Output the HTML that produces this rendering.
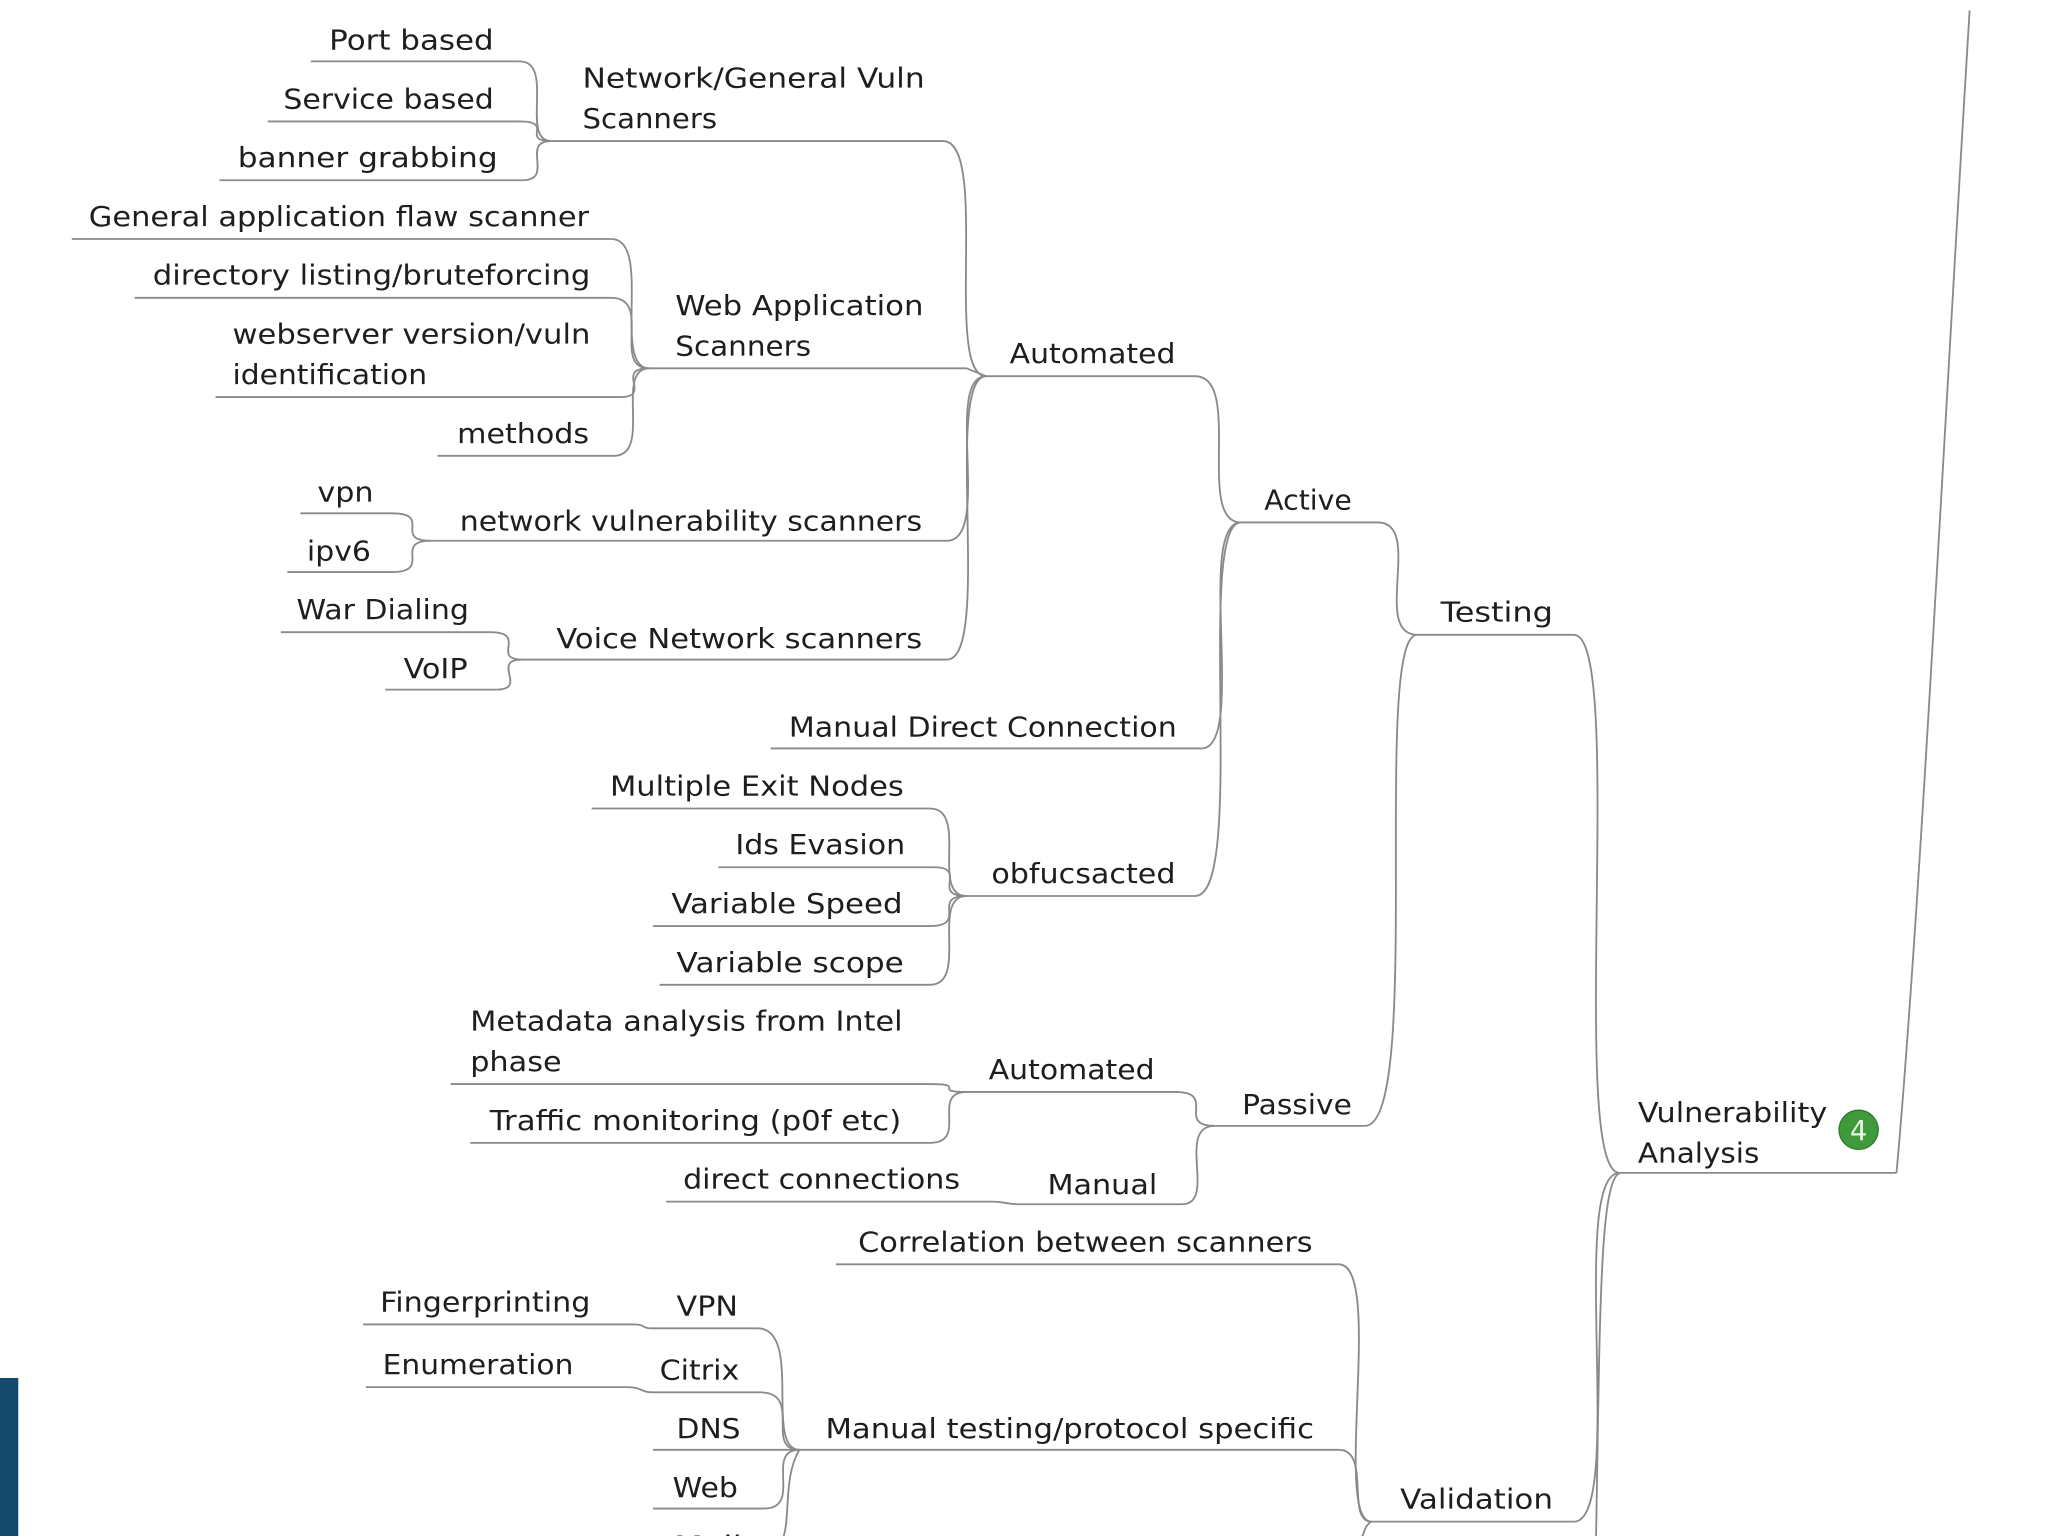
<!DOCTYPE html>
<html><head><meta charset="utf-8"><style>
html,body{margin:0;padding:0;background:#fff;}
svg{display:block;}
text{font-family:"DejaVu Sans","Liberation Sans",sans-serif;font-size:21px;fill:#1e1e1e;}
path,line{stroke:#8a8a8a;stroke-width:1.4;fill:none;}
</style></head><body>
<svg width="2048" height="1536" viewBox="0 0 1568 1176" xmlns="http://www.w3.org/2000/svg">
<rect x="0" y="0" width="1568" height="1176" fill="#fff"/>
<rect x="0" y="1055" width="14" height="121" fill="#164a6d" style="stroke:none"/>

<!-- underlines -->
<g>
<line x1="238" y1="47" x2="398" y2="47"/>
<line x1="205" y1="93" x2="398" y2="93"/>
<line x1="168" y1="138" x2="400" y2="138"/>
<line x1="422" y1="108" x2="722" y2="108"/>
<line x1="755" y1="288" x2="915" y2="288"/>
<line x1="55" y1="183" x2="468" y2="183"/>
<line x1="103" y1="228" x2="468" y2="228"/>
<line x1="165" y1="304" x2="475" y2="304"/>
<line x1="335" y1="349" x2="470" y2="349"/>
<line x1="497" y1="282" x2="740" y2="282"/>
<line x1="230" y1="393" x2="300" y2="393"/>
<line x1="220" y1="438" x2="300" y2="438"/>
<line x1="330" y1="414" x2="725" y2="414"/>
<line x1="215" y1="484" x2="375" y2="484"/>
<line x1="295" y1="528" x2="380" y2="528"/>
<line x1="400" y1="505" x2="725" y2="505"/>
<line x1="950" y1="400" x2="1055" y2="400"/>
<line x1="590" y1="573" x2="920" y2="573"/>
<line x1="740" y1="686" x2="915" y2="686"/>
<line x1="453" y1="619" x2="712" y2="619"/>
<line x1="550" y1="664" x2="715" y2="664"/>
<line x1="500" y1="709" x2="712" y2="709"/>
<line x1="505" y1="754" x2="712" y2="754"/>
<line x1="1085" y1="486" x2="1205" y2="486"/>
<line x1="930" y1="862" x2="1045" y2="862"/>
<line x1="740" y1="836" x2="900" y2="836"/>
<line x1="510" y1="920" x2="760" y2="920"/>
<line x1="780" y1="922" x2="905" y2="922"/>
<line x1="345" y1="830" x2="712" y2="830"/>
<line x1="360" y1="875" x2="712" y2="875"/>
<line x1="1240" y1="898" x2="1452" y2="898"/>
<line x1="1050" y1="1165" x2="1205" y2="1165"/>
<line x1="640" y1="968" x2="1025" y2="968"/>
<line x1="612" y1="1110" x2="1025" y2="1110"/>
<line x1="500" y1="1017" x2="580" y2="1017"/>
<line x1="500" y1="1066" x2="582" y2="1066"/>
<line x1="500" y1="1110" x2="612" y2="1110"/>
<line x1="500" y1="1155" x2="585" y2="1155"/>
<line x1="278" y1="1014" x2="485" y2="1014"/>
<line x1="280" y1="1062" x2="480" y2="1062"/>
</g>
<!-- connectors -->
<g>
<path d="M398,47 C425,47 398,108 422,108"/>
<path d="M398,93 C425,93 398,108 422,108"/>
<path d="M400,138 C425,138 398,108 422,108"/>
<path d="M722,108 C758,108 722,288 755,288"/>
<path d="M468,183 C500,183 468,282 497,282"/>
<path d="M468,228 C500,228 468,282 497,282"/>
<path d="M475,304 C500,304 470,282 497,282"/>
<path d="M470,349 C500,349 470,282 497,282"/>
<path d="M740,282 L755,288"/>
<path d="M300,393 C332,393 300,414 330,414"/>
<path d="M300,438 C332,438 300,414 330,414"/>
<path d="M725,414 C760,414 722,288 755,288"/>
<path d="M375,484 C405,484 375,505 400,505"/>
<path d="M380,528 C405,528 375,505 400,505"/>
<path d="M725,505 C760,505 722,288 755,288"/>
<path d="M915,288 C952,288 915,400 950,400"/>
<path d="M920,573 C955,573 915,400 950,400"/>
<path d="M915,686 C955,686 915,400 950,400"/>
<path d="M712,619 C742,619 712,686 740,686"/>
<path d="M715,664 C742,664 712,686 740,686"/>
<path d="M712,709 C742,709 712,686 740,686"/>
<path d="M712,754 C742,754 712,686 740,686"/>
<path d="M1055,400 C1090,400 1050,486 1085,486"/>
<path d="M1045,862 C1090,862 1050,486 1085,486"/>
<path d="M900,836 C932,836 900,862 930,862"/>
<path d="M905,922 C932,922 900,862 930,862"/>
<path d="M760,920 C770,920 770,922 780,922"/>
<path d="M712,830 C742,830 712,836 740,836"/>
<path d="M712,875 C742,875 712,836 740,836"/>
<path d="M1205,486 C1245,486 1200,898 1240,898"/>
<path d="M1205,1165 C1245,1165 1200,898 1240,898"/>
<path d="M1240,898 C1225,905 1225,1000 1222,1176"/>
<path d="M1452,898 C1470,700 1490,300 1508,8"/>
<path d="M1025,968 C1060,968 1020,1165 1050,1165"/>
<path d="M1025,1110 C1050,1110 1030,1165 1050,1165"/>
<path d="M1050,1165 C1045,1168 1045,1172 1043,1176"/>
<path d="M580,1017 C615,1017 585,1110 612,1110"/>
<path d="M582,1066 C615,1066 585,1110 612,1110"/>
<path d="M585,1155 C615,1155 585,1110 612,1110"/>
<path d="M612,1110 C600,1130 605,1160 600,1176"/>
<path d="M485,1014 C495,1014 490,1017 500,1017"/>
<path d="M480,1062 C492,1062 490,1066 500,1066"/>
</g>
<!-- labels -->
<g>
<text x="252" y="38" textLength="126" lengthAdjust="spacingAndGlyphs">Port based</text>
<text x="217" y="83" textLength="161" lengthAdjust="spacingAndGlyphs">Service based</text>
<text x="182" y="128" textLength="199" lengthAdjust="spacingAndGlyphs">banner grabbing</text>
<text x="446" y="67" textLength="262" lengthAdjust="spacingAndGlyphs">Network/General Vuln</text>
<text x="446" y="98" textLength="103" lengthAdjust="spacingAndGlyphs">Scanners</text>
<text x="68" y="173" textLength="383" lengthAdjust="spacingAndGlyphs">General application flaw scanner</text>
<text x="117" y="218" textLength="335" lengthAdjust="spacingAndGlyphs">directory listing/bruteforcing</text>
<text x="178" y="263" textLength="274" lengthAdjust="spacingAndGlyphs">webserver version/vuln</text>
<text x="178" y="294" textLength="149" lengthAdjust="spacingAndGlyphs">identification</text>
<text x="350" y="339" textLength="101" lengthAdjust="spacingAndGlyphs">methods</text>
<text x="517" y="241" textLength="190" lengthAdjust="spacingAndGlyphs">Web Application</text>
<text x="517" y="272" textLength="104" lengthAdjust="spacingAndGlyphs">Scanners</text>
<text x="773" y="278" textLength="127" lengthAdjust="spacingAndGlyphs">Automated</text>
<text x="243" y="384" textLength="43" lengthAdjust="spacingAndGlyphs">vpn</text>
<text x="235" y="429" textLength="49" lengthAdjust="spacingAndGlyphs">ipv6</text>
<text x="352" y="406" textLength="354" lengthAdjust="spacingAndGlyphs">network vulnerability scanners</text>
<text x="227" y="474" textLength="132" lengthAdjust="spacingAndGlyphs">War Dialing</text>
<text x="309" y="519" textLength="49" lengthAdjust="spacingAndGlyphs">VoIP</text>
<text x="426" y="496" textLength="280" lengthAdjust="spacingAndGlyphs">Voice Network scanners</text>
<text x="968" y="390" textLength="67" lengthAdjust="spacingAndGlyphs">Active</text>
<text x="604" y="564" textLength="297" lengthAdjust="spacingAndGlyphs">Manual Direct Connection</text>
<text x="467" y="609" textLength="225" lengthAdjust="spacingAndGlyphs">Multiple Exit Nodes</text>
<text x="563" y="654" textLength="130" lengthAdjust="spacingAndGlyphs">Ids Evasion</text>
<text x="514" y="699" textLength="177" lengthAdjust="spacingAndGlyphs">Variable Speed</text>
<text x="518" y="744" textLength="174" lengthAdjust="spacingAndGlyphs">Variable scope</text>
<text x="759" y="676" textLength="141" lengthAdjust="spacingAndGlyphs">obfucsacted</text>
<text x="1103" y="476" textLength="86" lengthAdjust="spacingAndGlyphs">Testing</text>
<text x="360" y="789" textLength="331" lengthAdjust="spacingAndGlyphs">Metadata analysis from Intel</text>
<text x="360" y="820" textLength="70" lengthAdjust="spacingAndGlyphs">phase</text>
<text x="375" y="865" textLength="315" lengthAdjust="spacingAndGlyphs">Traffic monitoring (p0f etc)</text>
<text x="757" y="826" textLength="127" lengthAdjust="spacingAndGlyphs">Automated</text>
<text x="523" y="910" textLength="212" lengthAdjust="spacingAndGlyphs">direct connections</text>
<text x="802" y="914" textLength="84" lengthAdjust="spacingAndGlyphs">Manual</text>
<text x="951" y="853" textLength="84" lengthAdjust="spacingAndGlyphs">Passive</text>
<text x="1254" y="859" textLength="145" lengthAdjust="spacingAndGlyphs">Vulnerability</text>
<text x="1254" y="890" textLength="93" lengthAdjust="spacingAndGlyphs">Analysis</text>
<text x="657" y="958" textLength="348" lengthAdjust="spacingAndGlyphs">Correlation between scanners</text>
<text x="291" y="1004" textLength="161" lengthAdjust="spacingAndGlyphs">Fingerprinting</text>
<text x="518" y="1007" textLength="47" lengthAdjust="spacingAndGlyphs">VPN</text>
<text x="293" y="1052" textLength="146" lengthAdjust="spacingAndGlyphs">Enumeration</text>
<text x="505" y="1056" textLength="61" lengthAdjust="spacingAndGlyphs">Citrix</text>
<text x="518" y="1101" textLength="49" lengthAdjust="spacingAndGlyphs">DNS</text>
<text x="515" y="1146" textLength="50" lengthAdjust="spacingAndGlyphs">Web</text>
<text x="516" y="1191" textLength="52" lengthAdjust="spacingAndGlyphs">Mail</text>
<text x="632" y="1101" textLength="374" lengthAdjust="spacingAndGlyphs">Manual testing/protocol specific</text>
<text x="1072" y="1155" textLength="117" lengthAdjust="spacingAndGlyphs">Validation</text>
</g>
<circle cx="1423" cy="865" r="15" fill="#3f9a3c" style="stroke:#2e7a2c;stroke-width:1"/>
<text x="1423" y="873" text-anchor="middle" style="fill:#e8f5e4;font-size:21px">4</text>
</svg>
</body></html>
